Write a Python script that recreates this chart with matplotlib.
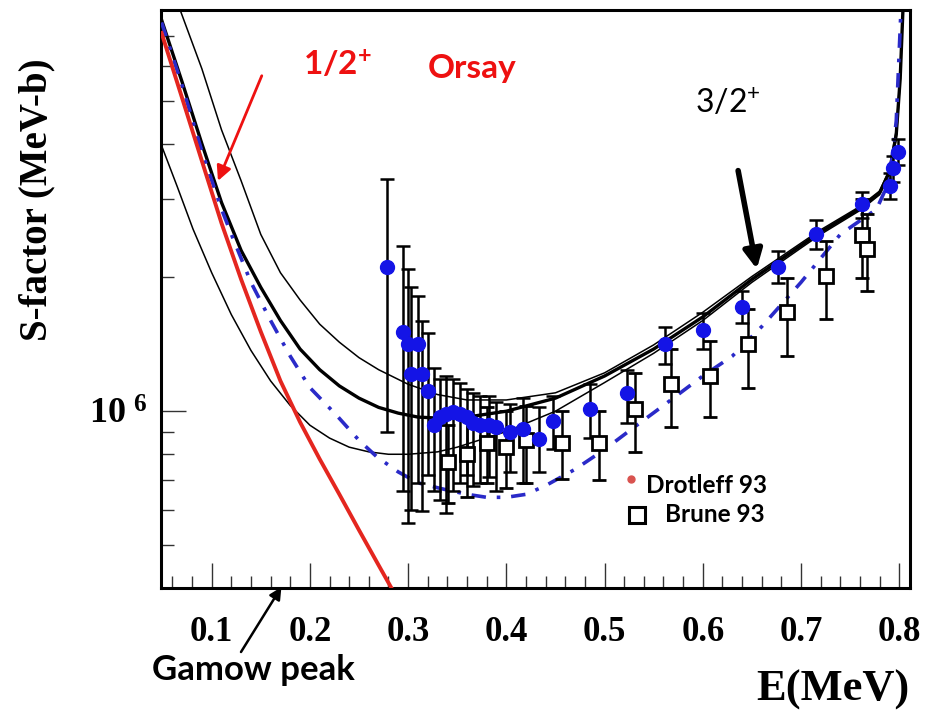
import matplotlib
matplotlib.use("Agg")
import matplotlib.pyplot as plt
from matplotlib.ticker import MultipleLocator, LogLocator, NullFormatter, FixedLocator, FixedFormatter

plt.rcParams['mathtext.default'] = 'regular'

# Orsay data (filled circles): energy, S-factor, error bar low / high
orsay_e = [0.278, 0.295, 0.300, 0.303, 0.310, 0.314, 0.320, 0.326, 0.3325, 0.339, 0.346,
           0.353, 0.360, 0.366, 0.373, 0.382, 0.389, 0.404, 0.417, 0.433, 0.448, 0.485,
           0.523, 0.562, 0.600, 0.640, 0.677, 0.715, 0.762, 0.791, 0.794, 0.799]
orsay_s = [2.11e6, 1.51e6, 1.42e6, 1.21e6, 1.42e6, 1.21e6, 1.11e6, 9.3e5, 9.7e5, 9.86e5, 9.95e5,
           9.86e5, 9.7e5, 9.4e5, 9.3e5, 9.3e5, 9.2e5, 8.97e5, 9.1e5, 8.67e5, 9.5e5, 1.01e6,
           1.10e6, 1.42e6, 1.52e6, 1.72e6, 2.11e6, 2.51e6, 2.93e6, 3.22e6, 3.52e6, 3.83e6]
orsay_lo = [9.0e5, 6.6e5, 5.6e5, 6.0e5, 6.9e5, 5.97e5, 7.2e5, 6.6e5, 6.3e5, 5.9e5, 6.6e5,
            6.9e5, 7.2e5, 6.8e5, 6.9e5, 7.1e5, 6.6e5, 7.3e5, 6.9e5, 7.3e5, 8.2e5, 8.7e5,
            9.4e5, 1.28e6, 1.38e6, 1.58e6, 1.94e6, 2.32e6, 2.72e6, 3.0e6, 3.28e6, 3.58e6]
orsay_hi = [3.34e6, 2.36e6, 2.09e6, 1.90e6, 1.82e6, 1.60e6, 1.50e6, 1.25e6, 1.18e6, 1.20e6, 1.18e6,
            1.16e6, 1.12e6, 1.10e6, 1.08e6, 1.08e6, 1.05e6, 1.04e6, 1.07e6, 1.02e6, 1.08e6, 1.15e6,
            1.24e6, 1.55e6, 1.66e6, 1.86e6, 2.30e6, 2.70e6, 3.12e6, 3.44e6, 3.76e6, 4.10e6]

# Brune 93 (open squares)
brune_e = [0.341, 0.360, 0.380, 0.400, 0.420, 0.457, 0.494, 0.531, 0.568, 0.607, 0.646, 0.686,
           0.725, 0.762, 0.767]
brune_s = [7.7e5, 8.0e5, 8.5e5, 8.3e5, 8.6e5, 8.5e5, 8.5e5, 1.01e6, 1.15e6, 1.20e6, 1.42e6, 1.67e6,
           2.02e6, 2.49e6, 2.32e6]
brune_lo = [6.2e5, 6.4e5, 6.9e5, 6.7e5, 6.9e5, 7.05e5, 7.0e5, 8.1e5, 9.2e5, 9.7e5, 1.13e6, 1.33e6,
            1.61e6, 1.99e6, 1.86e6]
brune_hi = [9.3e5, 9.6e5, 1.02e6, 1.0e6, 1.03e6, 1.0e6, 1.0e6, 1.22e6, 1.38e6, 1.44e6, 1.70e6, 1.99e6,
            2.42e6, 3.0e6, 2.78e6]

# R-matrix curves
fit_e = [0.049, 0.07, 0.09, 0.11, 0.13, 0.15, 0.17, 0.19, 0.21, 0.23, 0.25, 0.27, 0.29, 0.31,
         0.33, 0.36, 0.40, 0.45, 0.50, 0.55, 0.60, 0.65, 0.70, 0.72, 0.74, 0.76, 0.78, 0.79,
         0.797, 0.801, 0.804]
fit_s = [7.6e6, 5.5e6, 4.0e6, 2.95e6, 2.3e6, 1.9e6, 1.6e6, 1.38e6, 1.24e6, 1.14e6, 1.07e6, 1.02e6,
         9.9e5, 9.7e5, 9.65e5, 9.7e5, 1.0e6, 1.07e6, 1.2e6, 1.38e6, 1.63e6, 1.98e6, 2.36e6, 2.53e6,
         2.69e6, 2.86e6, 3.1e6, 3.45e6, 4.2e6, 5.6e6, 8.2e6]

upper_e = [0.067, 0.09, 0.11, 0.13, 0.15, 0.17, 0.19, 0.21, 0.23, 0.25, 0.27, 0.30, 0.33, 0.36,
           0.40, 0.45, 0.50, 0.55, 0.60, 0.65, 0.70, 0.72, 0.74, 0.76, 0.78, 0.79, 0.797, 0.801,
           0.804]
upper_s = [8.1e6, 5.9e6, 4.3e6, 3.3e6, 2.5e6, 2.05e6, 1.78e6, 1.57e6, 1.43e6, 1.32e6, 1.24e6, 1.15e6,
           1.09e6, 1.06e6, 1.06e6, 1.1e6, 1.22e6, 1.41e6, 1.67e6, 2.01e6, 2.39e6, 2.56e6, 2.72e6,
           2.89e6, 3.13e6, 3.5e6, 4.3e6, 5.7e6, 8.2e6]

lower_e = [0.049, 0.065, 0.081, 0.10, 0.12, 0.14, 0.16, 0.18, 0.20, 0.22, 0.24, 0.26, 0.28, 0.30,
           0.33, 0.35, 0.40, 0.45, 0.50, 0.55, 0.60, 0.65, 0.70, 0.72, 0.74, 0.76, 0.78, 0.79,
           0.797, 0.801, 0.804]
lower_s = [3.96e6, 3.2e6, 2.57e6, 2.05e6, 1.65e6, 1.37e6, 1.17e6, 1.03e6, 9.3e5, 8.7e5, 8.3e5,
           8.1e5, 8.0e5, 8.0e5, 8.1e5, 8.3e5, 9.0e5, 1.0e6, 1.16e6, 1.35e6, 1.6e6, 1.95e6, 2.33e6,
           2.5e6, 2.66e6, 2.83e6, 3.07e6, 3.4e6, 4.1e6, 5.5e6, 8.2e6]

red_e = [0.049, 0.07, 0.09, 0.11, 0.13, 0.15, 0.17, 0.19, 0.21, 0.23, 0.25, 0.27, 0.283]
red_s = [7.1e6, 5.06e6, 3.66e6, 2.65e6, 1.98e6, 1.51e6, 1.17e6, 9.45e5, 7.8e5, 6.5e5, 5.4e5,
         4.5e5, 4.0e5]

dash_e = [0.049, 0.07, 0.09, 0.11, 0.122, 0.14, 0.16, 0.18, 0.20, 0.227, 0.25, 0.268, 0.29, 0.31,
          0.333, 0.36, 0.38, 0.40, 0.42, 0.44, 0.47, 0.50, 0.53, 0.56, 0.60, 0.63, 0.66, 0.70,
          0.74, 0.777, 0.79, 0.797, 0.802]
dash_s = [7.5e6, 5.4e6, 3.85e6, 2.85e6, 2.44e6, 1.95e6, 1.6e6, 1.33e6, 1.13e6, 9.8e5, 8.6e5, 7.9e5,
          7.3e5, 6.9e5, 6.7e5, 6.5e5, 6.4e5, 6.4e5, 6.5e5, 6.8e5, 7.4e5, 8.2e5, 9.2e5, 1.03e6,
          1.2e6, 1.33e6, 1.55e6, 1.95e6, 2.5e6, 2.85e6, 3.3e6, 4.5e6, 8.2e6]

x_ticks = [0.1, 0.2, 0.3, 0.4, 0.5, 0.6, 0.7, 0.8]

serif_b = dict(family='Liberation Serif', weight='bold')
sans_b = dict(family='Lato', weight='bold')

fig = plt.figure(figsize=(9.28, 7.17), dpi=100)
ax = fig.add_axes([161 / 928, 1 - 588 / 717, 749 / 928, 578 / 717])

ax.plot(upper_e, upper_s, color='black', lw=1.1, zorder=2)
ax.plot(lower_e, lower_s, color='black', lw=1.1, zorder=2)
ax.plot(fit_e, fit_s, color='black', lw=2.4, zorder=3)
ax.plot(dash_e, dash_s, color='#2a2ac8', lw=2.6, dashes=(4, 3, 1, 3), zorder=3)
ax.plot(red_e, red_s, color='#e4261f', lw=2.8, zorder=3)

b_err = [[s - l for s, l in zip(brune_s, brune_lo)], [h - s for s, h in zip(brune_s, brune_hi)]]
ax.errorbar(brune_e, brune_s, yerr=b_err, fmt='s', ms=10, mfc='white', mec='black', mew=2,
            ecolor='black', elinewidth=1.8, capsize=5, capthick=1.8, zorder=4)
o_err = [[s - l for s, l in zip(orsay_s, orsay_lo)], [h - s for s, h in zip(orsay_s, orsay_hi)]]
ax.errorbar(orsay_e, orsay_s, yerr=o_err, fmt='none', ecolor='black', elinewidth=1.8,
            capsize=5, capthick=1.8, zorder=4)
ax.plot(orsay_e, orsay_s, 'o', ms=10, color='#1414e6', zorder=5)

ax.set_yscale('log')
ax.set_xlim(0.0484, 0.811)
ax.set_ylim(4e5, 8e6)

ax.xaxis.set_major_locator(FixedLocator(x_ticks))
ax.xaxis.set_minor_locator(MultipleLocator(0.02))
ax.set_xticklabels([f'{v:.1f}' for v in x_ticks], fontsize=25, **serif_b)
ax.yaxis.set_major_locator(FixedLocator([1e6]))
ax.yaxis.set_major_formatter(FixedFormatter([r'$10^{\ 6}$']))
ax.yaxis.set_minor_locator(LogLocator(base=10, subs=range(2, 10)))
ax.yaxis.set_minor_formatter(NullFormatter())
for lab in ax.get_yticklabels():
    lab.set_fontproperties(matplotlib.font_manager.FontProperties(size=26, **serif_b))

ax.tick_params(which='both', direction='in', top=False, right=False, width=1.0, color='#333333')
ax.tick_params(which='major', length=18)
ax.tick_params(which='minor', length=9)
ax.tick_params(axis='x', pad=20)
ax.tick_params(axis='y', pad=10)
for sp in ax.spines.values():
    sp.set_linewidth(2.2)

fig.text(37 / 928, 1 - 200 / 717, 'S-factor (MeV-b)', rotation=90, ha='center', va='center',
         fontsize=28, **serif_b)
fig.text(910 / 928, 1 - 690 / 717, 'E(MeV)', ha='right', va='center', fontsize=32, **serif_b)

# annotations
ax.text(0.193, 6.06e6, r'1/2$^{+}$', color='#ee1111', fontsize=24, va='center', **sans_b)
ax.text(0.32, 5.9e6, 'Orsay', color='#ee1111', fontsize=24, va='center', **sans_b)
ax.text(0.592, 4.92e6, r'3/2$^{+}$', color='black', fontsize=23, va='center', family='Lato')
ax.annotate('', xy=(0.1064, 3.3e6), xytext=(0.151, 5.69e6),
            arrowprops=dict(arrowstyle='-|>', color='#ee1111', lw=2, mutation_scale=22,
                            shrinkA=0, shrinkB=0))
ax.annotate('', xy=(0.655, 2.09e6), xytext=(0.636, 3.48e6),
            arrowprops=dict(arrowstyle='-|>', color='black', lw=4, mutation_scale=28,
                            shrinkA=0, shrinkB=0))

ax.plot([0.527], [7.05e5], 'o', ms=5, color='#d9534f', zorder=6)
ax.text(0.542, 6.82e5, 'Drotleff 93', fontsize=17.5, va='center', **sans_b)
ax.plot([0.533], [5.84e5], 's', ms=11, mfc='white', mec='black', mew=2.2, zorder=6)
ax.text(0.562, 5.84e5, 'Brune 93', fontsize=17.5, va='center', **sans_b)

fig.text(152 / 928, 1 - 670 / 717, 'Gamow peak', fontsize=25, va='center', ha='left', **sans_b)
ax.annotate('', xy=(0.171, 4.02e5), xycoords='data', xytext=(241 / 928, 1 - 652 / 717),
            textcoords='figure fraction',
            arrowprops=dict(arrowstyle='-|>', color='black', lw=1.8, mutation_scale=18,
                            shrinkA=0, shrinkB=0),
            annotation_clip=False)

fig.savefig('out.png', dpi=100)
